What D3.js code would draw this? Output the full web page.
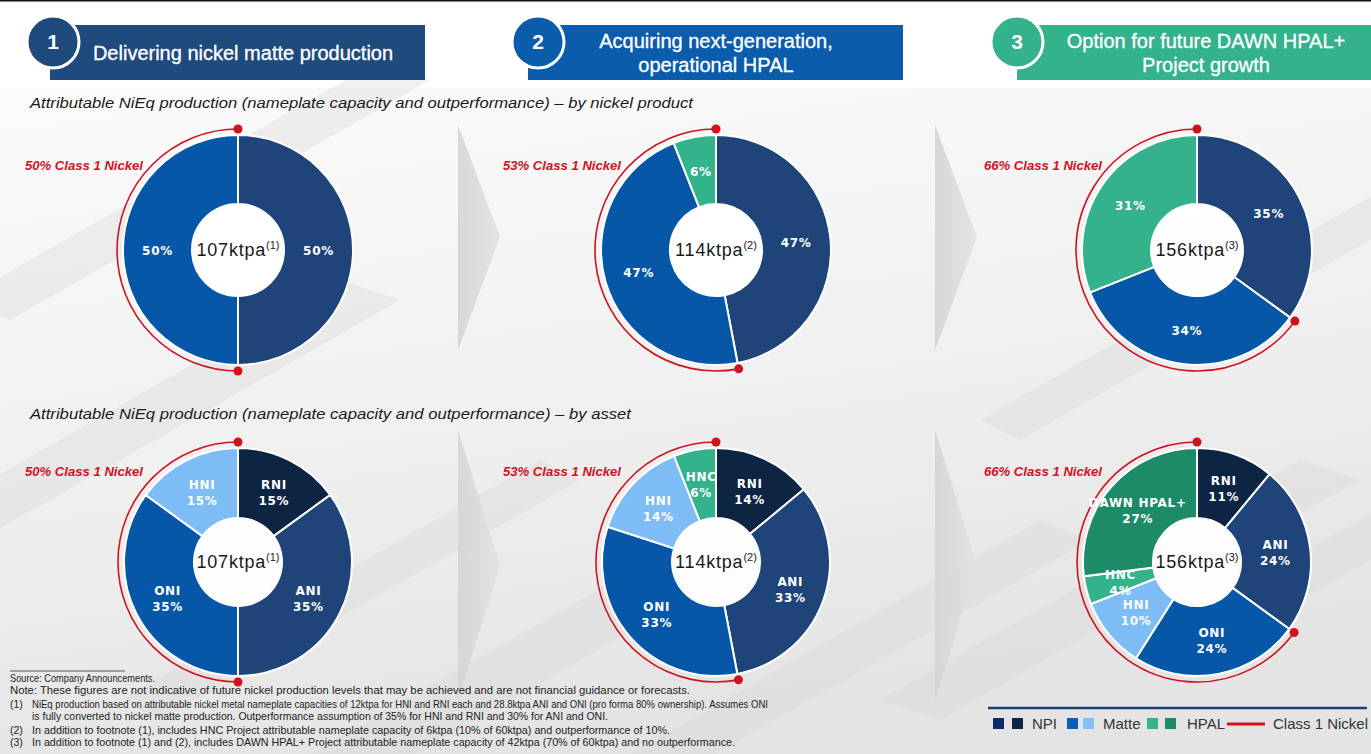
<!DOCTYPE html>
<html>
<head>
<meta charset="utf-8">
<script src="https://cdn.jsdelivr.net/npm/d3@7"></script>
<style>
body { margin: 0; background: #fff; }
svg { display: block; }
</style>
</head>
<body>
<svg id="drawing_region"></svg>
<script>
// ---- data ----
const stages = ["1", "2", "3"];
const headerLines = [
    ["Delivering nickel matte production"],
    ["Acquiring next-generation,", "operational HPAL"],
    ["Option for future DAWN HPAL+", "Project growth"]
];
const totals = [107, 114, 156];
const totalNotes = ["(1)", "(2)", "(3)"];
const class1Shares = [50, 53, 66];
const productNames = ["NPI", "Matte", "HPAL"];
const productShares = [[50, 50, 0], [47, 47, 6], [35, 34, 31]];
const assetNames = ["RNI", "ANI", "ONI", "HNI", "HNC", "DAWN HPAL+"];
const assetShares = [[15, 35, 35, 15, 0, 0], [14, 33, 33, 14, 6, 0], [11, 24, 24, 10, 4, 27]];
const subtitles = [
    "Attributable NiEq production (nameplate capacity and outperformance) \u2013 by nickel product",
    "Attributable NiEq production (nameplate capacity and outperformance) \u2013 by asset"
];
const legendLabels = ["NPI", "Matte", "HPAL", "Class 1 Nickel"];
const footnotes = [
    ["", "Source: Company Announcements.", 145],
    ["", "Note: These figures are not indicative of future nickel production levels that may be achieved and are not financial guidance or forecasts.", 680],
    ["(1)", "NiEq production based on attributable nickel metal nameplate capacities of 12ktpa for HNI and RNI each and 28.8ktpa ANI and ONI (pro forma 80% ownership). Assumes ONI", 736],
    ["", "is fully converted to nickel matte production. Outperformance assumption of 35% for HNI and RNI and 30% for ANI and ONI.", 576],
    ["(2)", "In addition to footnote (1), includes HNC Project attributable nameplate capacity of 6ktpa (10% of 60ktpa) and outperformance of 10%.", 638],
    ["(3)", "In addition to footnote (1) and (2), includes DAWN HPAL+ Project attributable nameplate capacity of 42ktpa (70% of 60ktpa) and no outperformance.", 703]
];

const productColors = ["#1e4479", "#0757a8", "#33b28c"];
const assetColors = ["#0e2443", "#1e4479", "#0757a8", "#7dbcf4", "#33b28c", "#1e8b68"];
const headerColors = ["#1f4a7c", "#0b5cab", "#33b28c"];
const red = "#d0121f";

const W = 1371, H = 754;
const svg = d3.select("#drawing_region").attr("width", W).attr("height", H);

// ---- background ----
const defs = svg.append("defs");
const bg = defs.append("linearGradient").attr("id", "bg").attr("x1", 0).attr("y1", 0).attr("x2", 0.3).attr("y2", 1);
bg.append("stop").attr("offset", "0%").attr("stop-color", "#fbfbfb");
bg.append("stop").attr("offset", "55%").attr("stop-color", "#f0f0f0");
bg.append("stop").attr("offset", "100%").attr("stop-color", "#e4e4e4");
const chev = defs.append("linearGradient").attr("id", "chev").attr("x1", 0).attr("y1", 0).attr("x2", 1).attr("y2", 0);
chev.append("stop").attr("offset", "0%").attr("stop-color", "#d4d4d4");
chev.append("stop").attr("offset", "100%").attr("stop-color", "#e2e2e2");

svg.append("rect").attr("width", W).attr("height", H).attr("fill", "#fff");
svg.append("rect").attr("y", 88).attr("width", W).attr("height", H - 88).attr("fill", "url(#bg)");
svg.append("rect").attr("width", W).attr("height", 1.5).attr("fill", "#111");

// faint diagonal pipes of the background photo
const bands = [[-80, 520, 60], [120, 700, 40], [300, 760, 70], [620, 760, 50], [880, 700, 60], [1150, 640, 45], [-40, 300, 50], [980, 420, 40]];
svg.append("g").selectAll("path").data(bands).join("path")
    .attr("d", d => `M${d[0]},${d[1]} L${d[0] + 420},${d[1] - 240} L${d[0] + 420 + d[2]},${d[1] - 240 + 20} L${d[0] + d[2]},${d[1] + 20} Z`)
    .attr("fill", "#d8d8d8").attr("opacity", 0.35);

// chevrons between the columns
const chevrons = [[458, 125, 500, 237, 350], [935, 125, 977, 237, 350], [458, 430, 500, 565, 700], [935, 430, 977, 565, 700]];
svg.append("g").selectAll("path").data(chevrons).join("path")
    .attr("d", d => `M${d[0]},${d[1]} L${d[2]},${d[3]} L${d[0]},${d[4]} Z`)
    .attr("fill", "url(#chev)").attr("opacity", 0.9);

// ---- headers ----
const headerBoxes = [[50, 425, 53], [528, 903, 538], [1017, 1371, 1017]];
const headerTextX = [243, 716, 1206];
headerBoxes.forEach((b, i) => {
    const g = svg.append("g");
    g.append("rect").attr("x", b[0]).attr("y", 25).attr("width", b[1] - b[0]).attr("height", 55)
        .attr("fill", headerColors[i]);
    g.append("circle").attr("cx", b[2]).attr("cy", 42).attr("r", 26)
        .attr("fill", headerColors[i]).attr("stroke", "#fff").attr("stroke-width", 3);
    g.append("text").attr("x", b[2]).attr("y", 49).attr("text-anchor", "middle")
        .attr("fill", "#fff").attr("font-family", "Liberation Sans, Arial, sans-serif")
        .attr("font-weight", "bold").attr("font-size", 21).text(stages[i]);
    const lines = headerLines[i];
    const y0 = lines.length === 1 ? 60 : 48;
    lines.forEach((t, j) => {
        g.append("text").attr("x", headerTextX[i]).attr("y", y0 + j * 24).attr("text-anchor", "middle")
            .attr("fill", "#fff").attr("font-family", "Liberation Sans, Arial, sans-serif")
            .attr("font-size", 20).attr("stroke", "#fff").attr("stroke-width", 0.3).text(t);
    });
});

// ---- subtitles ----
svg.append("g").selectAll("text").data(subtitles).join("text")
    .attr("x", 30).attr("y", (d, i) => i === 0 ? 108 : 419)
    .attr("font-family", "Liberation Sans, Arial, sans-serif").attr("font-style", "italic")
    .attr("font-size", 15).attr("fill", "#1a1a1a")
    .attr("textLength", (d, i) => i === 0 ? 663 : 601).attr("lengthAdjust", "spacingAndGlyphs")
    .text(d => d);

// ---- donuts ----
class Donut {
    constructor(config, names, values, colors) {
        this.config = config;
        this.names = names;
        this.values = values;
        this.colors = colors;
        this.init();
    }

    init() {
        let self = this;
        self.g = svg.append("g")
            .attr("transform", `translate(${self.config.cx}, ${self.config.cy})`);
        self.pie = d3.pie().value(d => d.value).sort(null);
        self.arc = d3.arc().innerRadius(self.config.inner).outerRadius(self.config.outer);
        self.labelArc = d3.arc()
            .innerRadius((self.config.inner + self.config.outer) / 2)
            .outerRadius((self.config.inner + self.config.outer) / 2);
        self.data = self.names.map((n, i) => ({ name: n, value: self.values[i], color: self.colors[i] }));
    }

    render() {
        let self = this;
        const arcs = self.pie(self.data);

        self.g.selectAll(".slice")
            .data(arcs.filter(d => d.data.value > 0))
            .join("path")
            .attr("class", "slice")
            .attr("d", self.arc)
            .attr("fill", d => d.data.color)
            .attr("stroke", "#fff")
            .style("stroke-width", "2px");

        // class 1 nickel arc
        const start = arcs[self.config.npiCount].startAngle;
        const rr = self.config.outer + 6;
        self.g.append("path")
            .attr("d", d3.arc().innerRadius(rr).outerRadius(rr).startAngle(start).endAngle(2 * Math.PI)())
            .attr("fill", "none").attr("stroke", red).attr("stroke-width", 1.6);
        self.g.selectAll(".dot").data([start, 2 * Math.PI]).join("circle")
            .attr("class", "dot")
            .attr("cx", a => rr * Math.sin(a)).attr("cy", a => -rr * Math.cos(a))
            .attr("r", 4.5).attr("fill", red);
        self.g.append("text")
            .attr("x", -95).attr("y", self.config.redY)
            .attr("text-anchor", "end").attr("fill", red)
            .attr("font-family", "Liberation Sans, Arial, sans-serif")
            .attr("font-style", "italic").attr("font-weight", "bold").attr("font-size", 12)
            .attr("textLength", 118).attr("lengthAdjust", "spacingAndGlyphs")
            .text(`${self.config.class1}% Class 1 Nickel`);

        // centre
        self.g.append("circle").attr("r", self.config.inner - 1).attr("fill", "#fff").attr("opacity", 0.93);
        const c = self.g.append("text").attr("text-anchor", "middle").attr("y", 6)
            .attr("font-family", "Liberation Sans, Arial, sans-serif").attr("fill", "#1a1a1a");
        c.append("tspan").attr("font-size", 18).attr("letter-spacing", 0.8).text(`${self.config.total}ktpa`);
        c.append("tspan").attr("font-size", 11).attr("dy", -7).text(self.config.note);

        // slice labels
        const lab = self.g.selectAll(".lab")
            .data(arcs.filter(d => d.data.value > 0))
            .join("text")
            .attr("class", "lab")
            .attr("transform", d => `translate(${self.labelArc.centroid(d)})`)
            .attr("text-anchor", "middle")
            .attr("fill", "#fff")
            .attr("font-family", "DejaVu Sans, sans-serif")
            .attr("font-weight", "bold").attr("font-size", 12)
            .attr("letter-spacing", 0.7);
        if (self.config.withNames) {
            lab.append("tspan").attr("x", 0).attr("y", -3).text(d => d.data.name);
            lab.append("tspan").attr("x", 0).attr("y", 13).text(d => d.data.value + "%");
        } else {
            lab.attr("dy", "5px").text(d => d.data.value + "%");
        }
    }
}

const colX = [238, 716, 1197];
stages.forEach((s, i) => {
    new Donut({ cx: colX[i], cy: 250, outer: 115, inner: 46, npiCount: 1, class1: class1Shares[i],
        total: totals[i], note: totalNotes[i], redY: -80, withNames: false },
        productNames, productShares[i], productColors).render();
    new Donut({ cx: colX[i], cy: 562, outer: 114, inner: 44, npiCount: 2, class1: class1Shares[i],
        total: totals[i], note: totalNotes[i], redY: -86, withNames: true },
        assetNames, assetShares[i], assetColors).render();
});

// ---- footnotes ----
svg.append("line").attr("x1", 10).attr("x2", 125).attr("y1", 671).attr("y2", 671)
    .attr("stroke", "#333").attr("stroke-width", 0.8);
const fy = [682, 694, 708, 720, 734, 746];
const fn = svg.append("g").attr("font-family", "Liberation Sans Narrow, Liberation Sans, Arial, sans-serif")
    .attr("font-size", 10.5).attr("fill", "#222");
footnotes.forEach((f, i) => {
    const indent = (i >= 2) ? 32 : 10;
    if (f[0]) fn.append("text").attr("x", 10).attr("y", fy[i]).text(f[0]);
    fn.append("text").attr("x", indent).attr("y", fy[i])
        .attr("textLength", f[2]).attr("lengthAdjust", "spacingAndGlyphs").text(f[1]);
});

// ---- legend ----
const lg = svg.append("g").attr("font-family", "Liberation Sans, Arial, sans-serif").attr("font-size", 15).attr("fill", "#333");
lg.append("line").attr("x1", 988).attr("x2", 1367).attr("y1", 708).attr("y2", 708)
    .attr("stroke", "#1a3f7a").attr("stroke-width", 2.5);
const legendSquares = [[993, "#0b2a6b"], [1012, "#0e2443"], [1067, "#0b5db8"], [1083, "#7fc0f5"], [1147, "#33b48e"], [1165, "#1e8b68"]];
lg.selectAll("rect").data(legendSquares).join("rect")
    .attr("x", d => d[0]).attr("y", 718).attr("width", 11).attr("height", 11).attr("fill", d => d[1]);
const legendTextX = [1032, 1103, 1187, 1273];
lg.selectAll("text").data(legendLabels).join("text")
    .attr("x", (d, i) => legendTextX[i]).attr("y", 729).text(d => d);
lg.append("line").attr("x1", 1227).attr("x2", 1265).attr("y1", 724).attr("y2", 724)
    .attr("stroke", red).attr("stroke-width", 3);
</script>
</body>
</html>
